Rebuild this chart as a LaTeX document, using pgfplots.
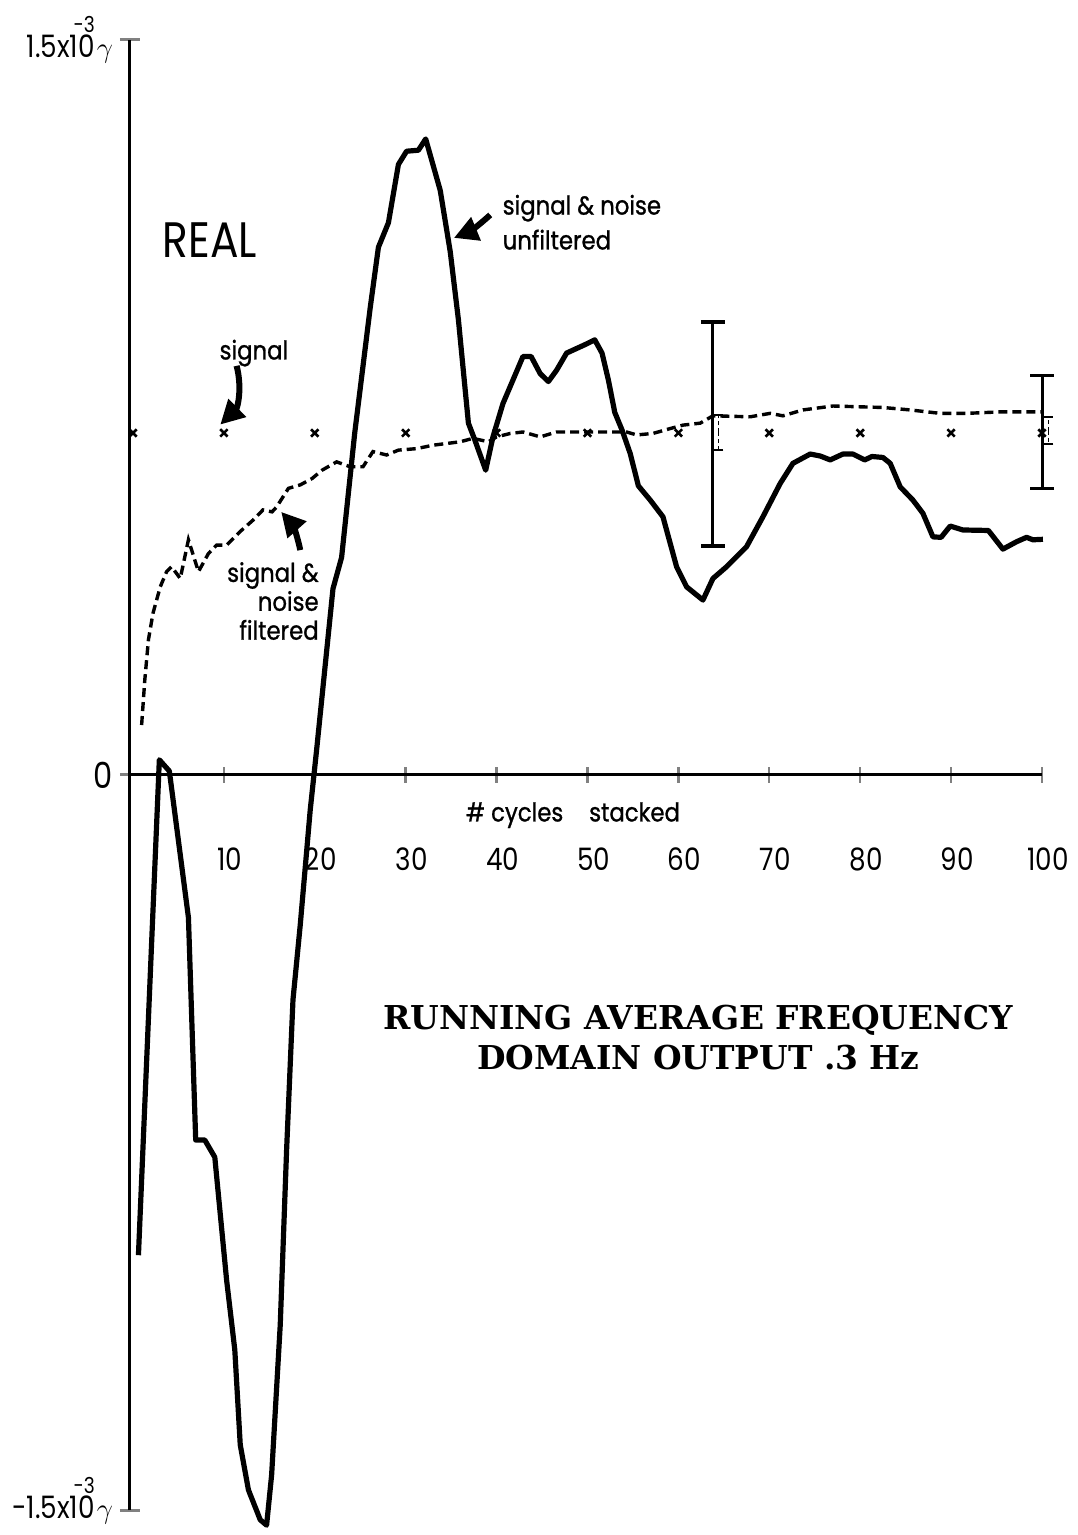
\documentclass[border=0pt]{standalone}
\usepackage{pgfplots}
\pgfplotsset{compat=1.18}
\usepackage{fontspec}
\setmainfont{Poppins}
\newfontfamily\hand[FakeStretch=0.85]{Poppins}
\newfontfamily\handlab[FakeStretch=0.88, FakeBold=1]{Poppins}
\newfontfamily\titlefont{DejaVu Serif}
\usetikzlibrary{arrows.meta}

\newcommand{\lab}{\handlab\fontsize{13}{14.5}\selectfont}
\newcommand{\ylab}[1]{#1{}1.5x1{0}\llap{\raisebox{0.8em}{\fontsize{11}{11}\selectfont -3}}\kern1bp$\gamma$}

\begin{document}
\begin{tikzpicture}
\begin{axis}[
    x=4.545bp, y=245bp,
    xmin=-0.33, xmax=100, ymin=-1.5, ymax=1.5,
    axis x line=middle, axis y line=left,
    axis line style={-, line width=1.5bp},
    clip=false,
    xtick={10,20,...,100},
    xticklabels={10,20,30,40,50,60,70,80,90,100},
    ytick={-1.5,0,1.5},
    yticklabels={{\raisebox{-4bp}[0pt][0pt]{\ylab{-}}}, {\fontsize{18}{18}\selectfont 0}, {\ylab{}}},
    tick align=center,
    major tick length=10bp,
    xtick style={/pgfplots/major tick length=8bp, line width=1.2bp},
    ytick style={line width=1.5bp},
    tick label style={font=\hand\fontsize{15.5}{15.5}\selectfont},
    yticklabel style={inner ysep=0pt},
    xticklabel style={yshift=-28bp, xshift=3bp},
    /pgf/number format/assume math mode=true,
]

% signal & noise unfiltered
\addplot[black, line width=2.6bp, line join=round] coordinates {
(0.6,-0.98) (2.9,0.031) (4.0,0.008) (5.35,-0.184) (6.1,-0.291)
(6.9,-0.745) (7.9,-0.745) (9.0,-0.780) (10.3,-1.031) (11.2,-1.173)
(11.8,-1.367) (12.7,-1.459) (14.0,-1.520) (14.7,-1.531) (15.25,-1.429)
(16.2,-1.122) (16.9,-0.765) (17.6,-0.459) (18.4,-0.306) (19.5,-0.071)
(20.2,0.051) (22.0,0.380) (22.95,0.444) (24.4,0.699) (26.1,0.954)
(27.0,1.077) (28.1,1.127) (29.2,1.246) (30.1,1.273) (31.4,1.275)
(32.2,1.298) (33.8,1.193) (34.9,1.068) (35.8,0.929) (36.9,0.718)
(37.6,0.684) (38.8,0.622) (39.6,0.690) (40.7,0.758) (41.8,0.806)
(42.9,0.854) (43.8,0.854) (44.8,0.819) (45.7,0.803) (46.6,0.826)
(47.7,0.861) (48.4,0.867) (49.7,0.878) (50.8,0.888) (51.6,0.861)
(52.3,0.806) (53.0,0.740) (53.8,0.704) (54.7,0.656) (55.6,0.590)
(56.9,0.561) (58.3,0.527) (59.8,0.425) (60.9,0.384) (62.7,0.357)
(63.8,0.401) (65.3,0.425) (67.5,0.466) (69.3,0.527) (71.2,0.595)
(72.6,0.636) (74.5,0.655) (75.6,0.651) (76.7,0.643) (78.1,0.655)
(79.2,0.655) (80.5,0.643) (81.3,0.650) (82.5,0.648) (83.3,0.636)
(84.4,0.588) (85.8,0.561) (86.9,0.534) (88.0,0.486) (88.9,0.485)
(89.9,0.508) (91.3,0.500) (94.1,0.499) (95.7,0.461) (97.2,0.476)
(98.3,0.485) (99.0,0.480) (100.1,0.481)
};

% signal & noise filtered
\addplot[black, line width=1.7bp, dash pattern=on 4.5bp off 2.5bp] coordinates {
(0.95,0.102) (1.3,0.194) (1.7,0.276) (2.2,0.330) (3.0,0.384)
(3.7,0.415) (4.25,0.425) (5.2,0.401) (6.1,0.480) (7.2,0.415)
(8.3,0.452) (9.2,0.469) (10.3,0.469) (11.8,0.497) (13.2,0.520)
(14.3,0.541) (15.3,0.537) (15.8,0.547) (17.1,0.585) (18.4,0.592)
(19.7,0.605) (20.8,0.622) (22.4,0.639) (23.9,0.629) (25.3,0.629)
(26.4,0.660) (27.9,0.653) (29.2,0.663) (31.2,0.666) (33.0,0.673)
(36.0,0.680) (37.4,0.687) (39.1,0.680) (40.0,0.690) (41.5,0.697)
(42.9,0.700) (44.8,0.690) (46.6,0.700) (48.4,0.700) (52.1,0.700)
(54.3,0.700) (55.4,0.694) (57.2,0.697) (59.1,0.707) (60.5,0.714)
(62.4,0.718) (63.8,0.733) (67.9,0.731) (70.1,0.738) (71.5,0.733)
(73.7,0.745) (77.0,0.753) (82.5,0.750) (85.5,0.745) (88.8,0.738)
(91.7,0.738) (95.4,0.741) (100,0.741)
};

% signal
\addplot[black, only marks, mark=x, mark size=2.6bp, line width=1.3bp] coordinates {
(0,0.698) (10,0.698) (20,0.698) (30,0.698) (40,0.698) (50,0.698)
(60,0.698) (70,0.698) (80,0.698) (90,0.698) (100,0.698)
};

% error bars, unfiltered
\addplot[draw=none, mark=none,
    error bars/.cd, y dir=both, y explicit,
    error bar style={draw=black, line width=1.5bp},
    error mark options={rotate=90, draw=black, mark size=6bp, line width=1.8bp}] coordinates {
(63.8,0.696) +- (0,0.229)
(100,0.700) +- (0,0.115)
};

% error bars, filtered
\addplot[draw=none, mark=none,
    error bars/.cd, y dir=both, y explicit,
    error bar style={draw=black, line width=0.6bp, dash pattern=on 2bp off 1.5bp},
    error mark options={rotate=90, draw=black, mark size=2.5bp, line width=0.9bp}] coordinates {
(64.4,0.699) +- (0,0.036)
(100.7,0.703) +- (0,0.028)
};

\node[font=\hand\fontsize{25}{25}\selectfont] at (axis cs:8.47,1.092) {REAL};
\node[font=\lab] at (axis cs:13.3,0.861) {signal};
\node[font=\handlab\fontsize{13}{17.5}\selectfont, align=left, anchor=west] at (axis cs:39.9,1.128) {signal \& noise\\unfiltered};
\node[font=\lab, align=right, anchor=east] at (axis cs:21.2,0.355) {signal \&\\noise\\filtered};
\node[font=\lab] at (axis cs:48.4,-0.082) {\# cycles\quad stacked};
\node[font=\titlefont\bfseries\fontsize{16.5}{20}\selectfont, align=center] at (axis cs:62.2,-0.535)
    {RUNNING AVERAGE FREQUENCY\\DOMAIN OUTPUT .3 Hz};

\draw[line width=3bp, -{Triangle[length=12bp, width=12bp]}] (axis cs:11.4,0.835) to[bend left=30] (axis cs:9.6,0.715);
\draw[line width=3bp, -{Triangle[length=12bp, width=12bp]}] (axis cs:39.3,1.143) to[bend left=10] (axis cs:35.3,1.096);
\draw[line width=3bp, -{Triangle[length=12bp, width=12bp]}] (axis cs:18.4,0.459) to[bend right=15] (axis cs:16.3,0.537);

\coordinate (bbSW) at (axis cs:-14.63,-1.551);
\coordinate (bbNE) at (axis cs:103.96,1.5816);
\end{axis}
\pgfresetboundingbox
\useasboundingbox (bbSW) rectangle (bbNE);
\end{tikzpicture}
\end{document}
